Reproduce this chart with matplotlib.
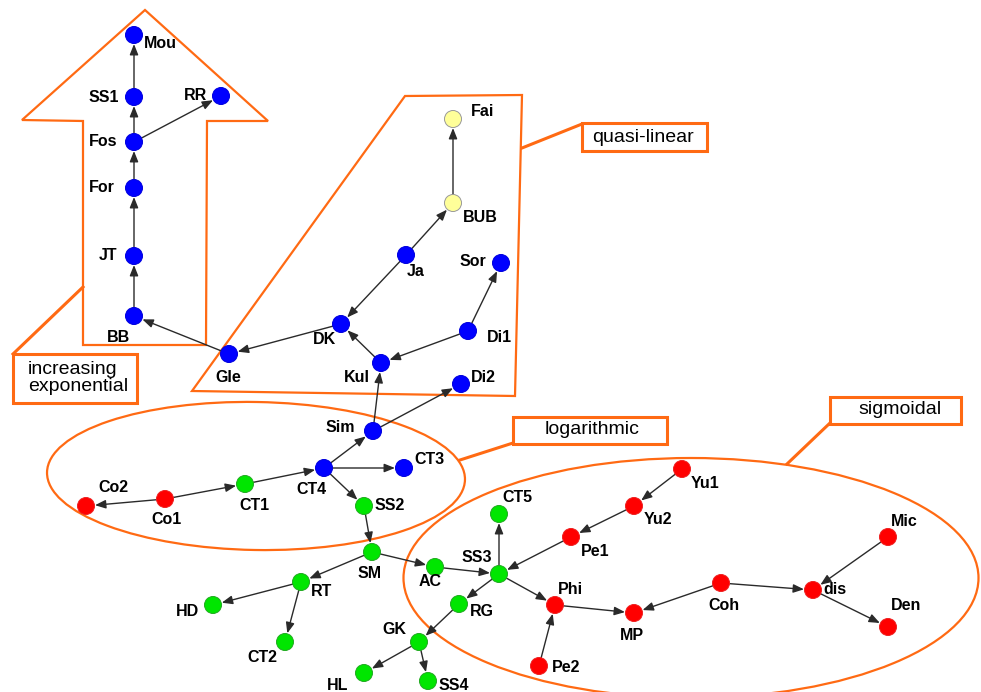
import matplotlib.pyplot as plt
from matplotlib.patches import Ellipse, Polygon, Rectangle

plt.rcParams['font.family'] = ['Liberation Sans', 'DejaVu Sans']

# nodes (pixel coordinates of the original drawing)
names = ['Mou', 'SS1', 'RR', 'Fos', 'For', 'JT', 'BB', 'Gle',
         'Fai', 'BUB', 'Ja', 'Sor', 'DK', 'Di1', 'Kul', 'Di2',
         'Sim', 'CT4', 'CT3', 'Co2', 'Co1', 'CT1', 'SS2', 'SM',
         'AC', 'RT', 'HD', 'CT2', 'GK', 'HL', 'SS4', 'RG',
         'SS3', 'CT5', 'Pe1', 'Yu2', 'Yu1', 'Phi', 'MP', 'Coh',
         'dis', 'Mic', 'Den', 'Pe2']
node_x = [134, 134, 221, 134, 134, 134, 134, 229,
          453, 453, 406, 501, 341, 468, 381, 461,
          373, 324, 404, 86, 165, 245, 364, 372,
          435, 301, 213, 285, 419, 364, 428, 459,
          499, 499, 571, 634, 682, 555, 634, 721,
          813, 888, 888, 539]
node_y = [35, 97, 96, 142, 188, 256, 316, 354,
          119, 203, 255, 263, 324, 331, 363, 384,
          431, 468, 468, 506, 499, 484, 506, 552,
          567, 582, 605, 642, 642, 673, 681, 604,
          574, 514, 537, 506, 469, 605, 613, 583,
          590, 537, 627, 666]
groups = ['b', 'b', 'b', 'b', 'b', 'b', 'b', 'b',
          'y', 'y', 'b', 'b', 'b', 'b', 'b', 'b',
          'b', 'b', 'b', 'r', 'r', 'g', 'g', 'g',
          'g', 'g', 'g', 'g', 'g', 'g', 'g', 'g',
          'g', 'g', 'r', 'r', 'r', 'r', 'r', 'r',
          'r', 'r', 'r', 'r']

edges = [('BB', 'JT'), ('JT', 'For'), ('For', 'Fos'), ('Fos', 'SS1'),
         ('SS1', 'Mou'), ('Fos', 'RR'), ('Gle', 'BB'), ('DK', 'Gle'),
         ('Ja', 'DK'), ('Ja', 'BUB'), ('BUB', 'Fai'), ('Kul', 'DK'),
         ('Di1', 'Kul'), ('Di1', 'Sor'), ('Sim', 'Kul'), ('Sim', 'Di2'),
         ('CT4', 'Sim'), ('CT4', 'CT3'), ('CT4', 'SS2'), ('CT1', 'CT4'),
         ('Co1', 'CT1'), ('Co1', 'Co2'), ('SS2', 'SM'), ('SM', 'RT'),
         ('SM', 'AC'), ('RT', 'HD'), ('RT', 'CT2'), ('AC', 'SS3'),
         ('SS3', 'CT5'), ('Pe1', 'SS3'), ('Yu2', 'Pe1'), ('Yu1', 'Yu2'),
         ('SS3', 'RG'), ('SS3', 'Phi'), ('RG', 'GK'), ('GK', 'HL'),
         ('GK', 'SS4'), ('Phi', 'MP'), ('Pe2', 'Phi'), ('Coh', 'MP'),
         ('Coh', 'dis'), ('Mic', 'dis'), ('dis', 'Den')]

region_labels = ['increasing\nexponential', 'quasi-linear', 'logarithmic', 'sigmoidal']

# label placement: offset from node (px) and horizontal alignment
label_pos = {
    'Mou': (10, 9, 'left'), 'SS1': (-15, 0, 'right'), 'RR': (-14, 0, 'right'),
    'Fos': (-17, 0, 'right'), 'For': (-19, 0, 'right'), 'JT': (-17, 0, 'right'),
    'BB': (-16, 21, 'center'), 'Gle': (-1, 23, 'center'), 'Fai': (18, -8, 'left'),
    'BUB': (10, 14, 'left'), 'Ja': (1, 16, 'left'), 'Sor': (-15, -1, 'right'),
    'DK': (-5, 15, 'right'), 'Di1': (19, 7, 'left'), 'Kul': (-11, 14, 'right'),
    'Di2': (10, -7, 'left'), 'Sim': (-18, -3, 'right'), 'CT4': (-13, 22, 'center'),
    'CT3': (10, -8, 'left'), 'Co2': (27, -18, 'center'), 'Co1': (1, 21, 'center'),
    'CT1': (9, 21, 'center'), 'SS2': (11, -1, 'left'), 'SM': (-2, 21, 'center'),
    'AC': (-5, 15, 'center'), 'RT': (10, 9, 'left'), 'HD': (-14, 7, 'right'),
    'CT2': (-23, 15, 'center'), 'GK': (-25, -13, 'center'), 'HL': (-26, 12, 'center'),
    'SS4': (11, 4, 'left'), 'RG': (11, 8, 'left'), 'SS3': (-22, -16, 'center'),
    'CT5': (18, -16, 'center'), 'Pe1': (10, 15, 'left'), 'Yu2': (10, 14, 'left'),
    'Yu1': (9, 14, 'left'), 'Phi': (15, -16, 'center'), 'MP': (-2, 22, 'center'),
    'Coh': (3, 22, 'center'), 'dis': (10, -1, 'left'), 'Mic': (16, -16, 'center'),
    'Den': (18, -21, 'center'), 'Pe2': (13, 2, 'left'),
}

face = {'b': '#0000ff', 'g': '#00e600', 'r': '#ff0000', 'y': '#ffff99'}
rim = {'b': '#0000dd', 'g': '#22aa22', 'r': '#ee2222', 'y': '#999999'}
ORANGE = '#ff6a13'

fig = plt.figure(figsize=(9.81, 6.92), dpi=100)
ax = fig.add_axes([0, 0, 1, 1])
ax.set_xlim(0, 981)
ax.set_ylim(692, 0)
ax.axis('off')

# region outlines
ax.add_patch(Polygon([(145, 10), (268, 121), (207, 121), (206, 345), (83, 345),
                      (83, 121), (22, 120)], closed=True, fill=False,
                     ec=ORANGE, lw=1.6, zorder=1))
ax.add_patch(Polygon([(405, 96), (522, 95), (515, 396), (192, 391)], closed=True,
                     fill=False, ec=ORANGE, lw=1.6, zorder=1))
ax.add_patch(Ellipse((256, 476), 418, 148, angle=1, fill=False, ec=ORANGE, lw=1.6, zorder=1))
ax.add_patch(Ellipse((691, 578), 575, 240, fill=False, ec=ORANGE, lw=1.6, zorder=1))

# callout boxes and leader lines
boxes = [(13, 354, 124, 49), (582, 123, 125, 28), (513, 417, 154, 27), (830, 397, 131, 27)]
leaders = [((83, 287), (13, 354)), ((522, 148), (582, 124)),
           ((460, 460), (513, 443)), ((787, 464), (830, 423))]
for (bx, by, bw, bh), (p0, p1) in zip(boxes, leaders):
    ax.add_patch(Rectangle((bx, by), bw, bh, fill=True, fc='white', ec=ORANGE, lw=2.2, zorder=2))
    ax.plot([p0[0], p1[0]], [p0[1], p1[1]], color=ORANGE, lw=2.2, zorder=1)

ax.text(28, 378, region_labels[0], ha='left', va='center', fontsize=14,
        linespacing=1.0, zorder=3)
ax.text(643, 137, region_labels[1], ha='center', va='center', fontsize=14, zorder=3)
ax.text(592, 430, region_labels[2], ha='center', va='center', fontsize=14, zorder=3)
ax.text(900, 410, region_labels[3], ha='center', va='center', fontsize=14, zorder=3)

# edges
idx = {n: i for i, n in enumerate(names)}
for src, dst in edges:
    a, b = idx[src], idx[dst]
    ax.annotate('', xy=(node_x[b], node_y[b]), xytext=(node_x[a], node_y[a]),
                arrowprops=dict(arrowstyle='-|>,head_length=0.8,head_width=0.32',
                                color='#2a2a2a', lw=1.0, shrinkA=6, shrinkB=6.5,
                                mutation_scale=8), zorder=4)

# nodes
ax.scatter(node_x, node_y, s=150, c=[face[g] for g in groups],
           edgecolors=[rim[g] for g in groups], linewidths=0.7, zorder=5)

for i, n in enumerate(names):
    dx, dy, ha = label_pos[n]
    ax.text(node_x[i] + dx, node_y[i] + dy, n, ha=ha, va='center',
            fontsize=11.5, fontweight='bold', color='black', zorder=6)

fig.savefig('out.png', dpi=100)
